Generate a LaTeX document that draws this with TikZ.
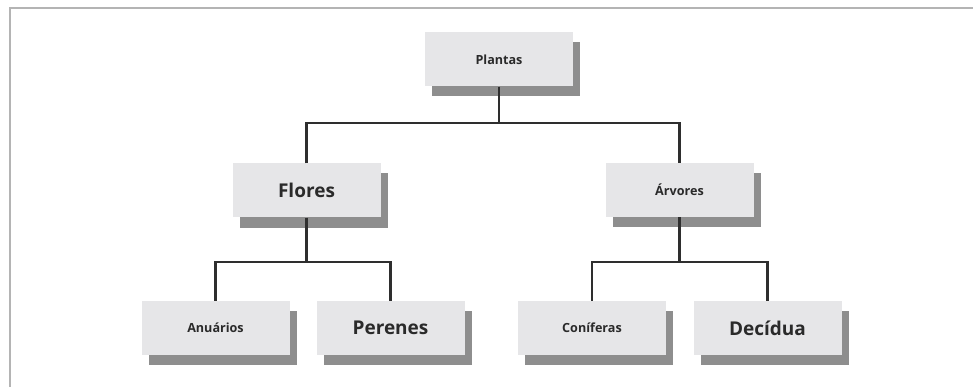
\documentclass[tikz,border=0pt]{standalone}
\usepackage{fontspec}
\setmainfont{Open Sans}
\usetikzlibrary{shadows}
\definecolor{boxfill}{HTML}{E6E6E8}
\definecolor{shadowc}{HTML}{8E8E8E}
\definecolor{linec}{HTML}{2E2E2E}
\definecolor{framec}{HTML}{B4B4B4}
\definecolor{textc}{HTML}{2A2A2A}
\tikzset{
  box/.style={fill=boxfill, minimum width=148pt, minimum height=54pt, inner sep=0pt,
    text=textc, font=\bfseries,
    drop shadow={shadow xshift=7pt, shadow yshift=-10pt, fill=shadowc, opacity=1}},
  small/.style={font=\bfseries\fontsize{12.6}{14}\selectfont},
  big/.style={font=\bfseries\fontsize{19}{22}\selectfont},
  conn/.style={draw=linec, line width=2.4pt},
  frame/.style={draw=framec, line width=2pt}
}
\begin{document}
\begin{tikzpicture}[x=1pt, y=-1pt]
\useasboundingbox (0,0) rectangle (973,387);
\fill[white] (0,0) rectangle (973,387);
\coordinate (fbl) at (10,387);
\coordinate (ftl) at (10,8);
\coordinate (ftr) at (973,8);
\draw[frame] (fbl) -- (ftl) -- (ftr);

\coordinate (bar1) at (0,123);
\coordinate (bar2) at (0,262);

\node[box, small] (plantas) at (499,59.5) {Plantas};
\node[box, big] (flores) at (306.5,190.5) {Flores};
\node[box, small] (arvores) at (679.5,190) {Árvores};
\node[box, small] (anuarios) at (215.5,328) {Anuários};
\node[box, big] (perenes) at (390.5,328) {Perenes};
\node[box, small] (coniferas) at (592,328) {Coníferas};
\node[box, big] (decidua) at (767.5,328) {Decídua};

\draw[conn] (plantas.south) -- (plantas.south |- bar1);
\draw[conn, line join=miter] (flores.north) -- (flores.north |- bar1) -| (arvores.north);
\draw[conn] (flores.south) -- (flores.south |- bar2);
\draw[conn, line join=miter] (anuarios.north) -- (anuarios.north |- bar2) -| (perenes.north);
\draw[conn] (arvores.south) -- (arvores.south |- bar2);
\draw[conn, line join=miter] (coniferas.north) -- (coniferas.north |- bar2) -| (decidua.north);
\end{tikzpicture}
\end{document}
